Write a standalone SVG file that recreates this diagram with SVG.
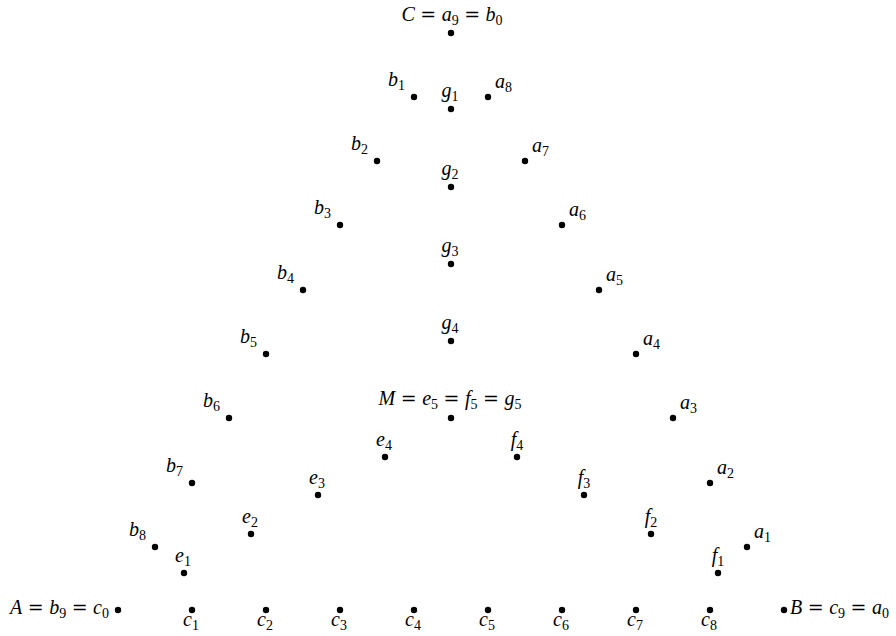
<svg xmlns="http://www.w3.org/2000/svg" width="896" height="636" viewBox="0 0 896 636">
<style>
text{font-family:"Liberation Serif","Times New Roman",serif;font-size:20px;fill:#000}
.i{font-style:italic}
.s{font-size:14px;font-style:normal}
.q{font-family:"DejaVu Serif",serif;font-size:19px;font-style:normal}
.m{text-anchor:middle}
.e{text-anchor:end}
circle{fill:#000}
</style>
<defs><circle id="d" r="3.2"/></defs>
<rect width="896" height="636" fill="#fff"/>
<g id="connectors"/>
<g id="nodes">
<g id="C"><use href="#d" x="451" y="33"/><text x="452" y="21" class="m"><tspan class="i">C</tspan><tspan class="q" dx="5.5">=</tspan><tspan class="i" dx="5.5">a</tspan><tspan class="s" dy="4">9</tspan><tspan class="q" dy="-4" dx="5.5">=</tspan><tspan class="i" dx="5.5">b</tspan><tspan class="s" dy="4">0</tspan></text></g>
<g id="b1"><use href="#d" x="414" y="97"/><text x="405" y="86" class="e i">b<tspan class="s" dy="4">1</tspan></text></g>
<g id="b2"><use href="#d" x="377" y="161"/><text x="368" y="150" class="e i">b<tspan class="s" dy="4">2</tspan></text></g>
<g id="b3"><use href="#d" x="340" y="225"/><text x="331" y="214" class="e i">b<tspan class="s" dy="4">3</tspan></text></g>
<g id="b4"><use href="#d" x="303" y="290"/><text x="294" y="279" class="e i">b<tspan class="s" dy="4">4</tspan></text></g>
<g id="b5"><use href="#d" x="266" y="354"/><text x="257" y="343" class="e i">b<tspan class="s" dy="4">5</tspan></text></g>
<g id="b6"><use href="#d" x="229" y="418"/><text x="220" y="407" class="e i">b<tspan class="s" dy="4">6</tspan></text></g>
<g id="b7"><use href="#d" x="192" y="483"/><text x="183" y="472" class="e i">b<tspan class="s" dy="4">7</tspan></text></g>
<g id="b8"><use href="#d" x="155" y="547"/><text x="146" y="536" class="e i">b<tspan class="s" dy="4">8</tspan></text></g>
<g id="a8"><use href="#d" x="488" y="97"/><text x="495" y="88" class="i">a<tspan class="s" dy="4">8</tspan></text></g>
<g id="a7"><use href="#d" x="525" y="161"/><text x="532" y="152" class="i">a<tspan class="s" dy="4">7</tspan></text></g>
<g id="a6"><use href="#d" x="562" y="225"/><text x="569" y="216" class="i">a<tspan class="s" dy="4">6</tspan></text></g>
<g id="a5"><use href="#d" x="599" y="290"/><text x="606" y="281" class="i">a<tspan class="s" dy="4">5</tspan></text></g>
<g id="a4"><use href="#d" x="636" y="354"/><text x="643" y="345" class="i">a<tspan class="s" dy="4">4</tspan></text></g>
<g id="a3"><use href="#d" x="673" y="418"/><text x="680" y="409" class="i">a<tspan class="s" dy="4">3</tspan></text></g>
<g id="a2"><use href="#d" x="710" y="483"/><text x="717" y="474" class="i">a<tspan class="s" dy="4">2</tspan></text></g>
<g id="a1"><use href="#d" x="747" y="547"/><text x="754" y="538" class="i">a<tspan class="s" dy="4">1</tspan></text></g>
<g id="g1"><use href="#d" x="451" y="109"/><text x="450" y="97" class="m i">g<tspan class="s" dy="4">1</tspan></text></g>
<g id="g2"><use href="#d" x="451" y="187"/><text x="450" y="175" class="m i">g<tspan class="s" dy="4">2</tspan></text></g>
<g id="g3"><use href="#d" x="451" y="264"/><text x="450" y="252" class="m i">g<tspan class="s" dy="4">3</tspan></text></g>
<g id="g4"><use href="#d" x="451" y="341"/><text x="450" y="329" class="m i">g<tspan class="s" dy="4">4</tspan></text></g>
<g id="M"><use href="#d" x="451" y="418"/><text x="450" y="405" class="m"><tspan class="i">M</tspan><tspan class="q" dx="5.5">=</tspan><tspan class="i" dx="5.5">e</tspan><tspan class="s" dy="4">5</tspan><tspan class="q" dy="-4" dx="5.5">=</tspan><tspan class="i" dx="5.5">f</tspan><tspan class="s" dy="4">5</tspan><tspan class="q" dy="-4" dx="5.5">=</tspan><tspan class="i" dx="5.5">g</tspan><tspan class="s" dy="4">5</tspan></text></g>
<g id="e4"><use href="#d" x="385" y="457"/><text x="384" y="446" class="m i">e<tspan class="s" dy="4">4</tspan></text></g>
<g id="e3"><use href="#d" x="318" y="495"/><text x="317" y="484" class="m i">e<tspan class="s" dy="4">3</tspan></text></g>
<g id="e2"><use href="#d" x="251" y="534"/><text x="250" y="523" class="m i">e<tspan class="s" dy="4">2</tspan></text></g>
<g id="e1"><use href="#d" x="184" y="573"/><text x="183" y="562" class="m i">e<tspan class="s" dy="4">1</tspan></text></g>
<g id="f4"><use href="#d" x="517" y="457"/><text x="517" y="446" class="m i">f<tspan class="s" dy="4">4</tspan></text></g>
<g id="f3"><use href="#d" x="584" y="495"/><text x="584" y="484" class="m i">f<tspan class="s" dy="4">3</tspan></text></g>
<g id="f2"><use href="#d" x="651" y="534"/><text x="651" y="523" class="m i">f<tspan class="s" dy="4">2</tspan></text></g>
<g id="f1"><use href="#d" x="718" y="573"/><text x="718" y="562" class="m i">f<tspan class="s" dy="4">1</tspan></text></g>
<g id="A"><use href="#d" x="118" y="610"/><text x="109" y="614" class="e"><tspan class="i">A</tspan><tspan class="q" dx="5.5">=</tspan><tspan class="i" dx="5.5">b</tspan><tspan class="s" dy="4">9</tspan><tspan class="q" dy="-4" dx="5.5">=</tspan><tspan class="i" dx="5.5">c</tspan><tspan class="s" dy="4">0</tspan></text></g>
<g id="c1"><use href="#d" x="192" y="610"/><text x="191" y="626" class="m i">c<tspan class="s" dy="4">1</tspan></text></g>
<g id="c2"><use href="#d" x="266" y="610"/><text x="265" y="626" class="m i">c<tspan class="s" dy="4">2</tspan></text></g>
<g id="c3"><use href="#d" x="340" y="610"/><text x="339" y="626" class="m i">c<tspan class="s" dy="4">3</tspan></text></g>
<g id="c4"><use href="#d" x="414" y="610"/><text x="413" y="626" class="m i">c<tspan class="s" dy="4">4</tspan></text></g>
<g id="c5"><use href="#d" x="488" y="610"/><text x="487" y="626" class="m i">c<tspan class="s" dy="4">5</tspan></text></g>
<g id="c6"><use href="#d" x="562" y="610"/><text x="561" y="626" class="m i">c<tspan class="s" dy="4">6</tspan></text></g>
<g id="c7"><use href="#d" x="636" y="610"/><text x="635" y="626" class="m i">c<tspan class="s" dy="4">7</tspan></text></g>
<g id="c8"><use href="#d" x="710" y="610"/><text x="709" y="626" class="m i">c<tspan class="s" dy="4">8</tspan></text></g>
<g id="B"><use href="#d" x="784" y="610"/><text x="790" y="614"><tspan class="i">B</tspan><tspan class="q" dx="5.5">=</tspan><tspan class="i" dx="5.5">c</tspan><tspan class="s" dy="4">9</tspan><tspan class="q" dy="-4" dx="5.5">=</tspan><tspan class="i" dx="5.5">a</tspan><tspan class="s" dy="4">0</tspan></text></g>
</g>
</svg>
